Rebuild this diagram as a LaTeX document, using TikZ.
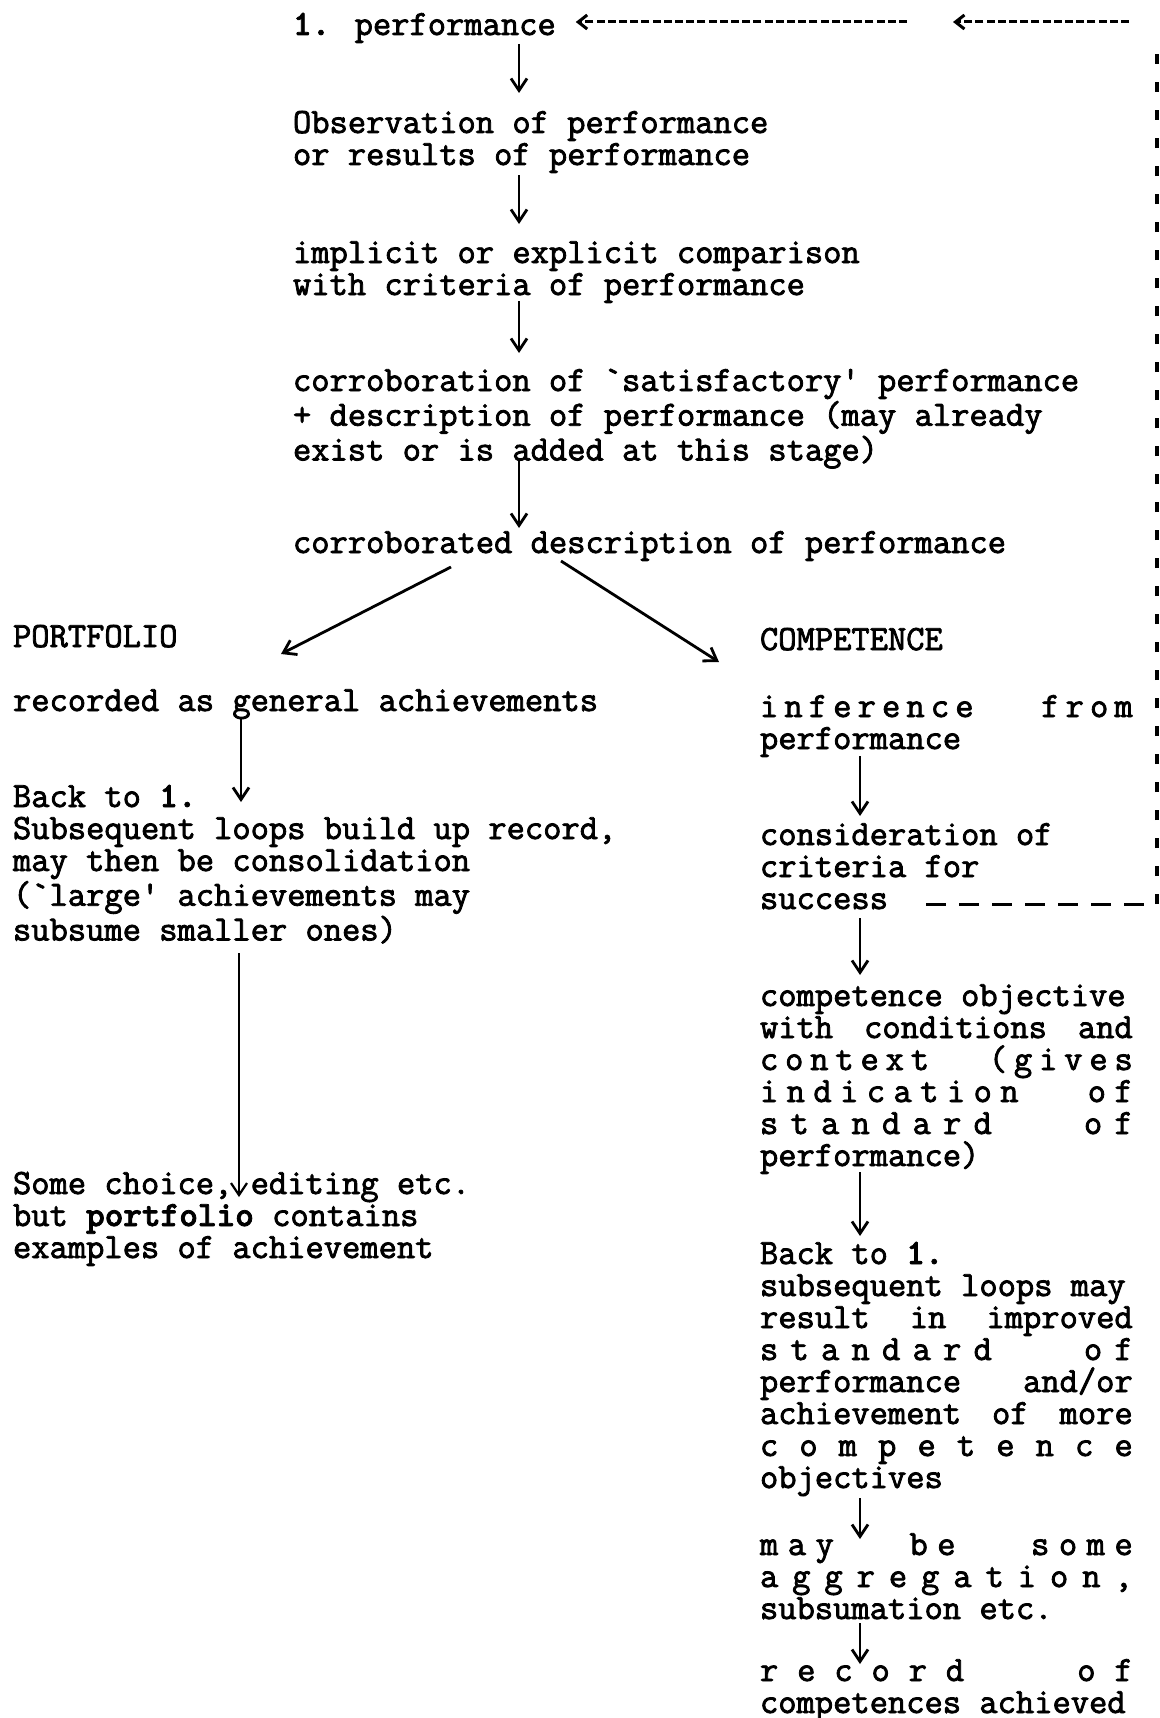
\documentclass[tikz,border=0pt]{standalone}
\usetikzlibrary{arrows.meta}
\newcommand\tw{\ttfamily\fontsize{17.75}{16}\selectfont}
\newcommand\thickon{\special{pdf:literal direct 2 Tr 0.4 w}}
\newcommand\thickoff{\special{pdf:literal direct 0 Tr}}
\newcommand\spr[2][3]{\leavevmode\def\sprw{#1}\hbox to 10.5em{\sprx#2\relax\relax}}
\def\sprx#1#2{\ifx|#1\hskip0.525em plus \sprw fil\relax\else#1\fi\ifx\relax#2\else\hskip0pt plus 1fil\relax\expandafter\sprx\expandafter#2\fi}
\newcommand\jw[1]{\leavevmode\hbox to 10.5em{\spaceskip=0.525em plus 1fil\relax #1}}
\begin{document}
\begin{tikzpicture}[x=0.5pt,y={(0pt,-0.5pt)},
  txt/.style={anchor=base west,inner sep=0pt,outer sep=0pt,font=\tw,
    execute at begin node=\thickon, execute at end node=\thickoff},
  arr/.style={line width=1.4pt,-{Straight Barb[length=6pt,width=8pt]}},
  looph/.style={line width=1.5pt,dash pattern=on 10pt off 6.5pt},
  loopv/.style={line width=1.6pt,dash pattern=on 5pt off 9pt},
  loopt/.style={line width=1.5pt,dash pattern=on 4pt off 1.6pt,-{Straight Barb[length=4.5pt,width=7pt]}}]
\useasboundingbox (0,0) rectangle (1160,1718);
\fill[white] (0,0) rectangle (1160,1718);
% centre column
\node[txt] (perf) at (293,35) {\textbf{1.} performance};
\node[txt] (obs) at (293,133) {\parbox[t]{25em}{Observation of performance\\ or results of performance}};
\node[txt] (imp) at (293,263) {\parbox[t]{25em}{implicit or explicit comparison\\ with criteria of performance}};
\node[txt] (cor) at (293,391) {\parbox[t]{25em}{corroboration of `satisfactory' performance\\ + description of performance (may already\\ exist or is added at this stage)}};
\node[txt] (cd) at (293,553) {corroborated description of performance};
% left column
\node[txt] (port) at (13,647) {PORTFOLIO};
\node[txt] (rec) at (13,711) {recorded as general achievements};
\node[txt] (backl) at (13,807) {\parbox[t]{25em}{Back to \textbf{1.}\\ Subsequent loops build up record,\\ may then be consolidation\\ (`large' achievements may\\ subsume smaller ones)}};
\node[txt] (some) at (13,1194) {\parbox[t]{25em}{Some choice, editing etc.\\ but \textbf{portfolio} contains\\ examples of achievement}};
% right column
\node[txt] (compe) at (760,650) {COMPETENCE};
\node[txt] (inf) at (760,717) {\parbox[t]{11em}{\spr[6]{inference|from}\\ performance}};
\node[txt] (cons) at (760,845) {\parbox[t]{11em}{consideration of\\ criteria for\\ success}};
\node[txt] (cobj) at (760,1006) {\parbox[t]{11em}{competence objective\\ \jw{with conditions and}\\ \spr[4]{context|(gives}\\ \spr[4]{indication|of}\\ \spr[4]{standard|of}\\ performance)}};
\node[txt] (backr) at (760,1264) {\parbox[t]{11em}{Back to \textbf{1.}\\ subsequent loops may\\ \jw{result in improved}\\ \spr[4]{standard|of}\\ \jw{performance and/or}\\ \jw{achievement of more}\\ \spr{competence}\\ objectives}};
\node[txt] (maybe) at (760,1555) {\parbox[t]{11em}{\spr[4]{may|be|some}\\ \spr{aggregation,}\\ subsumation etc.}};
\node[txt] (recc) at (760,1681) {\parbox[t]{11em}{\spr[3]{record|of}\\ competences achieved}};
% arrows
\draw[arr] ([shift={(226,9)}]perf.base west) -- ([shift={(226,-40)}]obs.base west);
\draw[arr] ([shift={(226,42)}]obs.base west) -- ([shift={(226,-39)}]imp.base west);
\draw[arr] ([shift={(226,38)}]imp.base west) -- ([shift={(226,-38)}]cor.base west);
\draw[arr] ([shift={(226,67)}]cor.base west) -- ([shift={(226,-25)}]cd.base west);
\draw[arr] ([shift={(158,14)}]cd.base west) -- ([shift={(268,7)}]port.base west);
\draw[arr] ([shift={(268,8)}]cd.base west) -- ([shift={(-41,12)}]compe.base west);
\draw[arr] ([shift={(228,6)}]rec.base west) -- ([shift={(228,-5)}]backl.base west);
\draw[arr,line width=1.1pt] ([shift={(226,146)}]backl.base west) -- ([shift={(226,3)}]some.base west);
\draw[arr] ([shift={(100,39)}]inf.base west) -- ([shift={(100,-29)}]cons.base west);
\draw[arr] ([shift={(100,73)}]cons.base west) -- ([shift={(100,-31)}]cobj.base west);
\draw[arr] ([shift={(100,166)}]cobj.base west) -- ([shift={(100,-28)}]backr.base west);
\draw[arr] ([shift={(100,234)}]backr.base west) -- ([shift={(100,-16)}]maybe.base west);
\draw[arr] ([shift={(100,68)}]maybe.base west) -- ([shift={(100,-17)}]recc.base west);
% feedback loop
\coordinate (lb) at (1157,904);
\coordinate (lt) at (1157,38);
\coordinate (ta) at (1129,22);
\coordinate (tb) at (953,22);
\coordinate (tc) at (907,22);
\draw[looph] ([shift={(166,59)}]cons.base west) -- (lb);
\draw[loopv] (lb) -- (lt);
\draw[loopt] (ta) -- (tb);
\draw[loopt] (tc) -- ([shift={(20,-13)}]perf.base east);
\end{tikzpicture}
\end{document}
